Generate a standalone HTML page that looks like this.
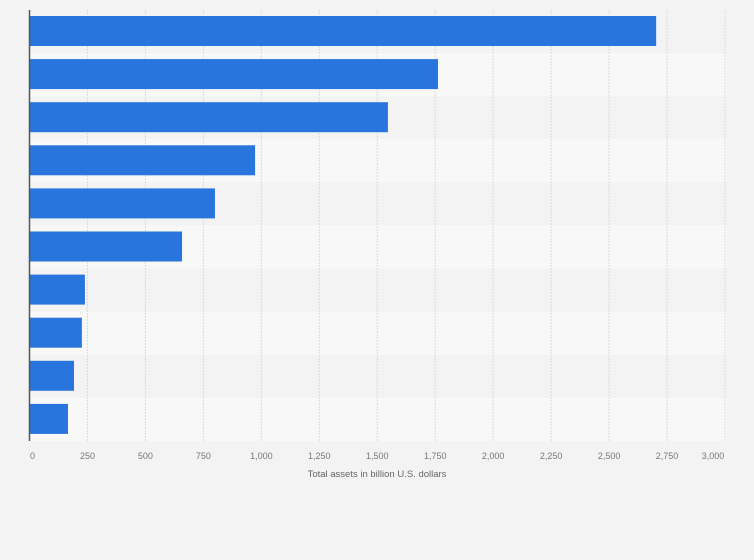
<!DOCTYPE html>
<html><head><meta charset="utf-8"><style>
body{margin:0;background:#f3f3f3;font-family:"Liberation Sans",sans-serif}
svg{display:block}
</style></head><body>
<svg width="754" height="560">
<rect width="754" height="560" fill="#f3f3f3"/>
<g id="bands"></g><g id="grid"></g><g id="bars"></g><g id="ticks"></g>
<line x1="29.5" y1="10" x2="29.5" y2="441" stroke="#555" stroke-width="1.5"/>
<text x="377" y="477" font-size="9.5" fill="#666" text-anchor="middle">Total assets in billion U.S. dollars</text>
</svg>
<script>
const values=[2703,1762,1546,973,800,658,239,226,192,166];
const tickValues=[0,250,500,750,1000,1250,1500,1750,2000,2250,2500,2750,3000];
const tickLabels=["0","250","500","750","1,000","1,250","1,500","1,750","2,000","2,250","2,500","2,750","3,000"];
const NS="http://www.w3.org/2000/svg";
const x0=29.5,x1=725,plotTop=10,plotBottom=441,plotRight=727;
const xs=v=>x0+(x1-x0)*v/3000;
const rowH=(plotBottom-plotTop)/values.length;
function mk(t,a,p){const e=document.createElementNS(NS,t);for(const k in a)e.setAttribute(k,a[k]);document.getElementById(p).appendChild(e);return e;}
values.forEach((v,i)=>{
 const y=plotTop+i*rowH;
 const b=mk('rect',{x:x0,y:y,width:plotRight-x0,height:rowH,fill:i%2?'#f8f8f8':'#f3f3f3'},'bands');
 
 
});
tickValues.forEach((v,i)=>{
 if(i>0){const g=mk('line',{x1:xs(v),x2:xs(v),y1:plotTop,y2:plotBottom,stroke:'#dcdcdc','stroke-dasharray':'2,1'},'grid');
 
 }
 const t=mk('text',{x:i==0?xs(v)+3:(i==tickValues.length-1?xs(v)-12:xs(v)),y:459,'font-size':9,fill:'#777','text-anchor':'middle'},'ticks');
 t.textContent=tickLabels[i];
 
 
});
values.forEach((v,i)=>{
 const y=plotTop+i*rowH+6;
 const r=mk('rect',{x:x0,y:y,width:xs(v)-x0,height:30,fill:'#2876dd'},'bars');
 
 
});
</script>
</body></html>
